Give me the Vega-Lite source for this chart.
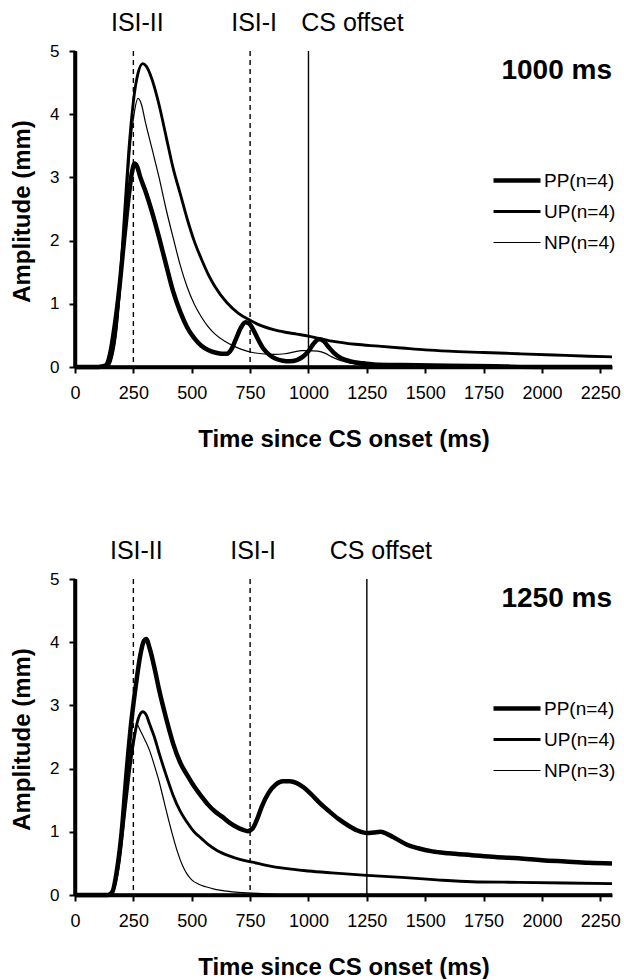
{
  "$schema": "https://vega.github.io/schema/vega-lite/v6.json",
  "background": "white",
  "padding": {"left": 10, "top": 11, "right": 0, "bottom": 0},
  "bounds": "flush",
  "spacing": 212,
  "config": {
    "view": {"stroke": null},
    "font": "Liberation Sans",
    "axis": {"grid": false, "domainColor": "black", "domainWidth": 3.5, "tickColor": "black", "tickWidth": 2, "tickSize": 6, "labelColor": "black", "titleColor": "black", "labelFont": "Liberation Sans", "titleFont": "Liberation Sans", "titleFontWeight": "bold", "titleFontSize": 24},
    "legend": {"orient": "none", "legendX": 416, "legendY": 114, "symbolType": "stroke", "symbolSize": 2209, "symbolStrokeColor": "black", "labelFontSize": 19, "labelOffset": 1, "rowPadding": 0, "clipHeight": 31, "labelColor": "black", "labelFont": "Liberation Sans"}
  },
  "resolve": {"scale": {"strokeWidth": "independent"}, "legend": {"strokeWidth": "independent"}},
  "datasets": {
    "marksTop": [{"t": 250, "marker": "ISI-II"}, {"t": 750, "marker": "ISI-I"}, {"t": 1000, "marker": "CS offset"}],
    "marksBottom": [{"t": 250, "marker": "ISI-II"}, {"t": 750, "marker": "ISI-I"}, {"t": 1250, "marker": "CS offset"}],
    "top": [
      {"group": "PP(n=4)", "t": 0, "amp": 0}, {"group": "PP(n=4)", "t": 100, "amp": 0}, {"group": "PP(n=4)", "t": 130, "amp": 0.02}, {"group": "PP(n=4)", "t": 150, "amp": 0.2}, {"group": "PP(n=4)", "t": 170, "amp": 0.65}, {"group": "PP(n=4)", "t": 190, "amp": 1.25}, {"group": "PP(n=4)", "t": 210, "amp": 2.0}, {"group": "PP(n=4)", "t": 230, "amp": 2.7}, {"group": "PP(n=4)", "t": 245, "amp": 3.1}, {"group": "PP(n=4)", "t": 255, "amp": 3.22}, {"group": "PP(n=4)", "t": 265, "amp": 3.18}, {"group": "PP(n=4)", "t": 280, "amp": 3.0}, {"group": "PP(n=4)", "t": 300, "amp": 2.8}, {"group": "PP(n=4)", "t": 330, "amp": 2.45}, {"group": "PP(n=4)", "t": 360, "amp": 2.05}, {"group": "PP(n=4)", "t": 390, "amp": 1.62}, {"group": "PP(n=4)", "t": 420, "amp": 1.2}, {"group": "PP(n=4)", "t": 450, "amp": 0.88}, {"group": "PP(n=4)", "t": 480, "amp": 0.63}, {"group": "PP(n=4)", "t": 510, "amp": 0.46}, {"group": "PP(n=4)", "t": 540, "amp": 0.34}, {"group": "PP(n=4)", "t": 570, "amp": 0.27}, {"group": "PP(n=4)", "t": 600, "amp": 0.23}, {"group": "PP(n=4)", "t": 630, "amp": 0.21}, {"group": "PP(n=4)", "t": 650, "amp": 0.21}, {"group": "PP(n=4)", "t": 670, "amp": 0.28}, {"group": "PP(n=4)", "t": 690, "amp": 0.45}, {"group": "PP(n=4)", "t": 710, "amp": 0.62}, {"group": "PP(n=4)", "t": 730, "amp": 0.71}, {"group": "PP(n=4)", "t": 745, "amp": 0.69}, {"group": "PP(n=4)", "t": 765, "amp": 0.58}, {"group": "PP(n=4)", "t": 785, "amp": 0.43}, {"group": "PP(n=4)", "t": 805, "amp": 0.3}, {"group": "PP(n=4)", "t": 830, "amp": 0.2}, {"group": "PP(n=4)", "t": 860, "amp": 0.13}, {"group": "PP(n=4)", "t": 890, "amp": 0.1}, {"group": "PP(n=4)", "t": 920, "amp": 0.09}, {"group": "PP(n=4)", "t": 950, "amp": 0.11}, {"group": "PP(n=4)", "t": 975, "amp": 0.16}, {"group": "PP(n=4)", "t": 1000, "amp": 0.25}, {"group": "PP(n=4)", "t": 1020, "amp": 0.36}, {"group": "PP(n=4)", "t": 1045, "amp": 0.44}, {"group": "PP(n=4)", "t": 1065, "amp": 0.41}, {"group": "PP(n=4)", "t": 1085, "amp": 0.32}, {"group": "PP(n=4)", "t": 1110, "amp": 0.22}, {"group": "PP(n=4)", "t": 1140, "amp": 0.14}, {"group": "PP(n=4)", "t": 1180, "amp": 0.09}, {"group": "PP(n=4)", "t": 1230, "amp": 0.06}, {"group": "PP(n=4)", "t": 1280, "amp": 0.04}, {"group": "PP(n=4)", "t": 1400, "amp": 0.03}, {"group": "PP(n=4)", "t": 1600, "amp": 0.02}, {"group": "PP(n=4)", "t": 1800, "amp": 0.01}, {"group": "PP(n=4)", "t": 2000, "amp": 0}, {"group": "PP(n=4)", "t": 2300, "amp": 0},
      {"group": "UP(n=4)", "t": 0, "amp": 0}, {"group": "UP(n=4)", "t": 130, "amp": 0}, {"group": "UP(n=4)", "t": 150, "amp": 0.1}, {"group": "UP(n=4)", "t": 170, "amp": 0.45}, {"group": "UP(n=4)", "t": 190, "amp": 1.2}, {"group": "UP(n=4)", "t": 210, "amp": 2.3}, {"group": "UP(n=4)", "t": 230, "amp": 3.4}, {"group": "UP(n=4)", "t": 250, "amp": 4.2}, {"group": "UP(n=4)", "t": 270, "amp": 4.65}, {"group": "UP(n=4)", "t": 290, "amp": 4.8}, {"group": "UP(n=4)", "t": 305, "amp": 4.76}, {"group": "UP(n=4)", "t": 330, "amp": 4.55}, {"group": "UP(n=4)", "t": 360, "amp": 4.15}, {"group": "UP(n=4)", "t": 390, "amp": 3.65}, {"group": "UP(n=4)", "t": 420, "amp": 3.15}, {"group": "UP(n=4)", "t": 450, "amp": 2.75}, {"group": "UP(n=4)", "t": 480, "amp": 2.35}, {"group": "UP(n=4)", "t": 510, "amp": 2.0}, {"group": "UP(n=4)", "t": 540, "amp": 1.72}, {"group": "UP(n=4)", "t": 570, "amp": 1.47}, {"group": "UP(n=4)", "t": 600, "amp": 1.27}, {"group": "UP(n=4)", "t": 650, "amp": 1.02}, {"group": "UP(n=4)", "t": 700, "amp": 0.85}, {"group": "UP(n=4)", "t": 750, "amp": 0.74}, {"group": "UP(n=4)", "t": 800, "amp": 0.65}, {"group": "UP(n=4)", "t": 850, "amp": 0.59}, {"group": "UP(n=4)", "t": 900, "amp": 0.55}, {"group": "UP(n=4)", "t": 950, "amp": 0.52}, {"group": "UP(n=4)", "t": 1000, "amp": 0.49}, {"group": "UP(n=4)", "t": 1100, "amp": 0.41}, {"group": "UP(n=4)", "t": 1200, "amp": 0.36}, {"group": "UP(n=4)", "t": 1300, "amp": 0.33}, {"group": "UP(n=4)", "t": 1400, "amp": 0.3}, {"group": "UP(n=4)", "t": 1500, "amp": 0.27}, {"group": "UP(n=4)", "t": 1600, "amp": 0.25}, {"group": "UP(n=4)", "t": 1750, "amp": 0.23}, {"group": "UP(n=4)", "t": 1900, "amp": 0.21}, {"group": "UP(n=4)", "t": 2050, "amp": 0.19}, {"group": "UP(n=4)", "t": 2200, "amp": 0.17}, {"group": "UP(n=4)", "t": 2300, "amp": 0.16},
      {"group": "NP(n=4)", "t": 0, "amp": 0}, {"group": "NP(n=4)", "t": 140, "amp": 0}, {"group": "NP(n=4)", "t": 160, "amp": 0.15}, {"group": "NP(n=4)", "t": 180, "amp": 0.6}, {"group": "NP(n=4)", "t": 200, "amp": 1.5}, {"group": "NP(n=4)", "t": 220, "amp": 2.6}, {"group": "NP(n=4)", "t": 240, "amp": 3.6}, {"group": "NP(n=4)", "t": 255, "amp": 4.05}, {"group": "NP(n=4)", "t": 270, "amp": 4.25}, {"group": "NP(n=4)", "t": 285, "amp": 4.15}, {"group": "NP(n=4)", "t": 300, "amp": 3.9}, {"group": "NP(n=4)", "t": 330, "amp": 3.45}, {"group": "NP(n=4)", "t": 360, "amp": 3.0}, {"group": "NP(n=4)", "t": 390, "amp": 2.5}, {"group": "NP(n=4)", "t": 420, "amp": 2.05}, {"group": "NP(n=4)", "t": 450, "amp": 1.62}, {"group": "NP(n=4)", "t": 480, "amp": 1.27}, {"group": "NP(n=4)", "t": 510, "amp": 1.0}, {"group": "NP(n=4)", "t": 540, "amp": 0.8}, {"group": "NP(n=4)", "t": 570, "amp": 0.64}, {"group": "NP(n=4)", "t": 600, "amp": 0.52}, {"group": "NP(n=4)", "t": 640, "amp": 0.41}, {"group": "NP(n=4)", "t": 680, "amp": 0.33}, {"group": "NP(n=4)", "t": 720, "amp": 0.27}, {"group": "NP(n=4)", "t": 760, "amp": 0.23}, {"group": "NP(n=4)", "t": 800, "amp": 0.21}, {"group": "NP(n=4)", "t": 850, "amp": 0.2}, {"group": "NP(n=4)", "t": 900, "amp": 0.21}, {"group": "NP(n=4)", "t": 940, "amp": 0.24}, {"group": "NP(n=4)", "t": 970, "amp": 0.26}, {"group": "NP(n=4)", "t": 1000, "amp": 0.26}, {"group": "NP(n=4)", "t": 1040, "amp": 0.25}, {"group": "NP(n=4)", "t": 1070, "amp": 0.22}, {"group": "NP(n=4)", "t": 1100, "amp": 0.16}, {"group": "NP(n=4)", "t": 1140, "amp": 0.1}, {"group": "NP(n=4)", "t": 1180, "amp": 0.06}, {"group": "NP(n=4)", "t": 1230, "amp": 0.03}, {"group": "NP(n=4)", "t": 1300, "amp": 0.01}, {"group": "NP(n=4)", "t": 1400, "amp": 0}, {"group": "NP(n=4)", "t": 2300, "amp": 0}
    ],
    "bottom": [
      {"group": "PP(n=4)", "t": 0, "amp": 0}, {"group": "PP(n=4)", "t": 140, "amp": 0}, {"group": "PP(n=4)", "t": 160, "amp": 0.05}, {"group": "PP(n=4)", "t": 180, "amp": 0.4}, {"group": "PP(n=4)", "t": 200, "amp": 1.0}, {"group": "PP(n=4)", "t": 220, "amp": 1.9}, {"group": "PP(n=4)", "t": 240, "amp": 2.7}, {"group": "PP(n=4)", "t": 260, "amp": 3.3}, {"group": "PP(n=4)", "t": 280, "amp": 3.8}, {"group": "PP(n=4)", "t": 295, "amp": 4.02}, {"group": "PP(n=4)", "t": 305, "amp": 4.05}, {"group": "PP(n=4)", "t": 320, "amp": 3.9}, {"group": "PP(n=4)", "t": 340, "amp": 3.6}, {"group": "PP(n=4)", "t": 360, "amp": 3.25}, {"group": "PP(n=4)", "t": 390, "amp": 2.8}, {"group": "PP(n=4)", "t": 420, "amp": 2.4}, {"group": "PP(n=4)", "t": 450, "amp": 2.1}, {"group": "PP(n=4)", "t": 480, "amp": 1.9}, {"group": "PP(n=4)", "t": 510, "amp": 1.72}, {"group": "PP(n=4)", "t": 540, "amp": 1.57}, {"group": "PP(n=4)", "t": 570, "amp": 1.43}, {"group": "PP(n=4)", "t": 600, "amp": 1.32}, {"group": "PP(n=4)", "t": 630, "amp": 1.24}, {"group": "PP(n=4)", "t": 660, "amp": 1.15}, {"group": "PP(n=4)", "t": 690, "amp": 1.08}, {"group": "PP(n=4)", "t": 720, "amp": 1.03}, {"group": "PP(n=4)", "t": 740, "amp": 1.01}, {"group": "PP(n=4)", "t": 760, "amp": 1.05}, {"group": "PP(n=4)", "t": 780, "amp": 1.2}, {"group": "PP(n=4)", "t": 800, "amp": 1.4}, {"group": "PP(n=4)", "t": 830, "amp": 1.62}, {"group": "PP(n=4)", "t": 860, "amp": 1.75}, {"group": "PP(n=4)", "t": 890, "amp": 1.8}, {"group": "PP(n=4)", "t": 920, "amp": 1.8}, {"group": "PP(n=4)", "t": 950, "amp": 1.77}, {"group": "PP(n=4)", "t": 980, "amp": 1.7}, {"group": "PP(n=4)", "t": 1010, "amp": 1.6}, {"group": "PP(n=4)", "t": 1050, "amp": 1.45}, {"group": "PP(n=4)", "t": 1090, "amp": 1.32}, {"group": "PP(n=4)", "t": 1130, "amp": 1.2}, {"group": "PP(n=4)", "t": 1170, "amp": 1.1}, {"group": "PP(n=4)", "t": 1210, "amp": 1.02}, {"group": "PP(n=4)", "t": 1250, "amp": 0.98}, {"group": "PP(n=4)", "t": 1280, "amp": 0.99}, {"group": "PP(n=4)", "t": 1310, "amp": 1.0}, {"group": "PP(n=4)", "t": 1340, "amp": 0.96}, {"group": "PP(n=4)", "t": 1380, "amp": 0.88}, {"group": "PP(n=4)", "t": 1420, "amp": 0.8}, {"group": "PP(n=4)", "t": 1470, "amp": 0.74}, {"group": "PP(n=4)", "t": 1530, "amp": 0.69}, {"group": "PP(n=4)", "t": 1600, "amp": 0.66}, {"group": "PP(n=4)", "t": 1700, "amp": 0.63}, {"group": "PP(n=4)", "t": 1800, "amp": 0.6}, {"group": "PP(n=4)", "t": 1900, "amp": 0.58}, {"group": "PP(n=4)", "t": 2000, "amp": 0.55}, {"group": "PP(n=4)", "t": 2100, "amp": 0.53}, {"group": "PP(n=4)", "t": 2200, "amp": 0.51}, {"group": "PP(n=4)", "t": 2300, "amp": 0.5},
      {"group": "UP(n=4)", "t": 0, "amp": 0}, {"group": "UP(n=4)", "t": 150, "amp": 0}, {"group": "UP(n=4)", "t": 170, "amp": 0.15}, {"group": "UP(n=4)", "t": 190, "amp": 0.55}, {"group": "UP(n=4)", "t": 210, "amp": 1.2}, {"group": "UP(n=4)", "t": 230, "amp": 1.85}, {"group": "UP(n=4)", "t": 250, "amp": 2.4}, {"group": "UP(n=4)", "t": 270, "amp": 2.78}, {"group": "UP(n=4)", "t": 290, "amp": 2.9}, {"group": "UP(n=4)", "t": 305, "amp": 2.85}, {"group": "UP(n=4)", "t": 320, "amp": 2.7}, {"group": "UP(n=4)", "t": 340, "amp": 2.5}, {"group": "UP(n=4)", "t": 360, "amp": 2.25}, {"group": "UP(n=4)", "t": 390, "amp": 1.9}, {"group": "UP(n=4)", "t": 420, "amp": 1.58}, {"group": "UP(n=4)", "t": 450, "amp": 1.33}, {"group": "UP(n=4)", "t": 480, "amp": 1.15}, {"group": "UP(n=4)", "t": 510, "amp": 1.0}, {"group": "UP(n=4)", "t": 540, "amp": 0.9}, {"group": "UP(n=4)", "t": 570, "amp": 0.8}, {"group": "UP(n=4)", "t": 610, "amp": 0.7}, {"group": "UP(n=4)", "t": 660, "amp": 0.62}, {"group": "UP(n=4)", "t": 710, "amp": 0.56}, {"group": "UP(n=4)", "t": 760, "amp": 0.52}, {"group": "UP(n=4)", "t": 820, "amp": 0.47}, {"group": "UP(n=4)", "t": 900, "amp": 0.42}, {"group": "UP(n=4)", "t": 1000, "amp": 0.38}, {"group": "UP(n=4)", "t": 1100, "amp": 0.35}, {"group": "UP(n=4)", "t": 1250, "amp": 0.31}, {"group": "UP(n=4)", "t": 1400, "amp": 0.28}, {"group": "UP(n=4)", "t": 1550, "amp": 0.24}, {"group": "UP(n=4)", "t": 1700, "amp": 0.21}, {"group": "UP(n=4)", "t": 1900, "amp": 0.2}, {"group": "UP(n=4)", "t": 2100, "amp": 0.19}, {"group": "UP(n=4)", "t": 2300, "amp": 0.18},
      {"group": "NP(n=3)", "t": 0, "amp": 0}, {"group": "NP(n=3)", "t": 150, "amp": 0}, {"group": "NP(n=3)", "t": 170, "amp": 0.2}, {"group": "NP(n=3)", "t": 190, "amp": 0.7}, {"group": "NP(n=3)", "t": 210, "amp": 1.4}, {"group": "NP(n=3)", "t": 230, "amp": 2.1}, {"group": "NP(n=3)", "t": 250, "amp": 2.5}, {"group": "NP(n=3)", "t": 265, "amp": 2.7}, {"group": "NP(n=3)", "t": 280, "amp": 2.6}, {"group": "NP(n=3)", "t": 300, "amp": 2.45}, {"group": "NP(n=3)", "t": 320, "amp": 2.28}, {"group": "NP(n=3)", "t": 340, "amp": 2.05}, {"group": "NP(n=3)", "t": 360, "amp": 1.8}, {"group": "NP(n=3)", "t": 380, "amp": 1.5}, {"group": "NP(n=3)", "t": 400, "amp": 1.2}, {"group": "NP(n=3)", "t": 420, "amp": 0.92}, {"group": "NP(n=3)", "t": 440, "amp": 0.67}, {"group": "NP(n=3)", "t": 460, "amp": 0.47}, {"group": "NP(n=3)", "t": 480, "amp": 0.33}, {"group": "NP(n=3)", "t": 500, "amp": 0.24}, {"group": "NP(n=3)", "t": 530, "amp": 0.17}, {"group": "NP(n=3)", "t": 560, "amp": 0.13}, {"group": "NP(n=3)", "t": 600, "amp": 0.09}, {"group": "NP(n=3)", "t": 650, "amp": 0.06}, {"group": "NP(n=3)", "t": 700, "amp": 0.04}, {"group": "NP(n=3)", "t": 760, "amp": 0.03}, {"group": "NP(n=3)", "t": 850, "amp": 0.01}, {"group": "NP(n=3)", "t": 950, "amp": 0}, {"group": "NP(n=3)", "t": 2300, "amp": 0}
    ]
  },
  "vconcat": [
    {
      "width": 537, "height": 316,
      "layer": [
        {"data": {"name": "top"}, "mark": {"type": "line", "color": "black", "interpolate": "monotone"},
         "encoding": {
           "x": {"field": "t", "type": "quantitative", "scale": {"domain": [0, 2300], "nice": false},
                 "axis": {"values": [0, 250, 500, 750, 1000, 1250, 1500, 1750, 2000, 2250], "format": "d", "title": "Time since CS onset (ms)", "labelFontSize": 18, "labelBaseline": "middle", "labelPadding": 20, "titleY": 72, "titleBaseline": "middle", "labelFlush": false, "labelOverlap": false, "domainColor": "black", "domainWidth": 3.5, "tickColor": "black", "tickWidth": 2, "tickSize": 6}},
           "y": {"field": "amp", "type": "quantitative", "scale": {"domain": [0, 5], "nice": false},
                 "axis": {"values": [0, 1, 2, 3, 4, 5], "format": "d", "title": "Amplitude (mm)", "labelFontSize": 17, "labelPadding": 10, "labelBaseline": "middle", "titleX": -53, "titleY": 160, "titleAngle": -90, "titleBaseline": "middle", "titleAlign": "center", "domainColor": "black", "domainWidth": 3.5, "tickColor": "black", "tickWidth": 2, "tickSize": 6}},
           "strokeWidth": {"field": "group", "type": "ordinal", "scale": {"domain": ["PP(n=4)", "UP(n=4)", "NP(n=4)"], "range": [4.5, 1.2]}, "legend": {"title": null}}
         }},
        {"data": {"name": "marksTop"}, "mark": {"type": "rule", "color": "black", "strokeWidth": 1.4},
         "encoding": {"x": {"field": "t", "type": "quantitative", "scale": {"domain": [0, 2300], "nice": false}},
                      "strokeDash": {"field": "marker", "type": "nominal", "scale": {"domain": ["ISI-II", "ISI-I", "CS offset"], "range": [[5, 4], [5, 4], [1, 0]]}, "legend": null}}},
        {"data": {"values": [{}]}, "mark": {"type": "rule", "color": "black", "strokeWidth": 3.5},
         "encoding": {"x": {"datum": 0, "type": "quantitative", "scale": {"domain": [0, 2300], "nice": false}}}},
        {"data": {"values": [{}]}, "mark": {"type": "rule", "color": "black", "strokeWidth": 3.5},
         "encoding": {"y": {"datum": 0, "type": "quantitative", "scale": {"domain": [0, 5], "nice": false}}}},
        {"data": {"name": "marksTop"}, "transform": [{"filter": "datum.marker != 'CS offset'"}],
         "mark": {"type": "text", "fontSize": 25, "dx": 4, "baseline": "middle", "clip": false, "color": "black"},
         "encoding": {"x": {"field": "t", "type": "quantitative", "scale": {"domain": [0, 2300], "nice": false}},
                      "y": {"datum": 5.44, "type": "quantitative", "scale": {"domain": [0, 5], "nice": false}},
                      "text": {"field": "marker"}}},
        {"data": {"name": "marksTop"}, "transform": [{"filter": "datum.marker == 'CS offset'"}],
         "mark": {"type": "text", "fontSize": 25, "dx": 44, "baseline": "middle", "clip": false, "color": "black"},
         "encoding": {"x": {"field": "t", "type": "quantitative", "scale": {"domain": [0, 2300], "nice": false}},
                      "y": {"datum": 5.44, "type": "quantitative", "scale": {"domain": [0, 5], "nice": false}},
                      "text": {"field": "marker"}}},
        {"data": {"values": [{}]}, "mark": {"type": "text", "text": "1000 ms", "fontSize": 28, "fontWeight": "bold", "align": "right", "baseline": "middle", "color": "black"},
         "encoding": {"x": {"datum": 2300, "type": "quantitative", "scale": {"domain": [0, 2300], "nice": false}},
                      "y": {"datum": 4.68, "type": "quantitative", "scale": {"domain": [0, 5], "nice": false}}}}
      ]
    },
    {
      "width": 537, "height": 316,
      "layer": [
        {"data": {"name": "bottom"}, "mark": {"type": "line", "color": "black", "interpolate": "monotone"},
         "encoding": {
           "x": {"field": "t", "type": "quantitative", "scale": {"domain": [0, 2300], "nice": false},
                 "axis": {"values": [0, 250, 500, 750, 1000, 1250, 1500, 1750, 2000, 2250], "format": "d", "title": "Time since CS onset (ms)", "labelFontSize": 18, "labelBaseline": "middle", "labelPadding": 20, "titleY": 72, "titleBaseline": "middle", "labelFlush": false, "labelOverlap": false, "domainColor": "black", "domainWidth": 3.5, "tickColor": "black", "tickWidth": 2, "tickSize": 6}},
           "y": {"field": "amp", "type": "quantitative", "scale": {"domain": [0, 5], "nice": false},
                 "axis": {"values": [0, 1, 2, 3, 4, 5], "format": "d", "title": "Amplitude (mm)", "labelFontSize": 17, "labelPadding": 10, "labelBaseline": "middle", "titleX": -53, "titleY": 160, "titleAngle": -90, "titleBaseline": "middle", "titleAlign": "center", "domainColor": "black", "domainWidth": 3.5, "tickColor": "black", "tickWidth": 2, "tickSize": 6}},
           "strokeWidth": {"field": "group", "type": "ordinal", "scale": {"domain": ["PP(n=4)", "UP(n=4)", "NP(n=3)"], "range": [4.5, 1.2]}, "legend": {"title": null}}
         }},
        {"data": {"name": "marksBottom"}, "mark": {"type": "rule", "color": "black", "strokeWidth": 1.4},
         "encoding": {"x": {"field": "t", "type": "quantitative", "scale": {"domain": [0, 2300], "nice": false}},
                      "strokeDash": {"field": "marker", "type": "nominal", "scale": {"domain": ["ISI-II", "ISI-I", "CS offset"], "range": [[5, 4], [5, 4], [1, 0]]}, "legend": null}}},
        {"data": {"values": [{}]}, "mark": {"type": "rule", "color": "black", "strokeWidth": 3.5},
         "encoding": {"x": {"datum": 0, "type": "quantitative", "scale": {"domain": [0, 2300], "nice": false}}}},
        {"data": {"values": [{}]}, "mark": {"type": "rule", "color": "black", "strokeWidth": 3.5},
         "encoding": {"y": {"datum": 0, "type": "quantitative", "scale": {"domain": [0, 5], "nice": false}}}},
        {"data": {"name": "marksBottom"}, "transform": [{"filter": "datum.marker != 'CS offset'"}],
         "mark": {"type": "text", "fontSize": 25, "dx": 3, "baseline": "middle", "clip": false, "color": "black"},
         "encoding": {"x": {"field": "t", "type": "quantitative", "scale": {"domain": [0, 2300], "nice": false}},
                      "y": {"datum": 5.44, "type": "quantitative", "scale": {"domain": [0, 5], "nice": false}},
                      "text": {"field": "marker"}}},
        {"data": {"name": "marksBottom"}, "transform": [{"filter": "datum.marker == 'CS offset'"}],
         "mark": {"type": "text", "fontSize": 25, "dx": 14, "baseline": "middle", "clip": false, "color": "black"},
         "encoding": {"x": {"field": "t", "type": "quantitative", "scale": {"domain": [0, 2300], "nice": false}},
                      "y": {"datum": 5.44, "type": "quantitative", "scale": {"domain": [0, 5], "nice": false}},
                      "text": {"field": "marker"}}},
        {"data": {"values": [{}]}, "mark": {"type": "text", "text": "1250 ms", "fontSize": 28, "fontWeight": "bold", "align": "right", "baseline": "middle", "color": "black"},
         "encoding": {"x": {"datum": 2300, "type": "quantitative", "scale": {"domain": [0, 2300], "nice": false}},
                      "y": {"datum": 4.68, "type": "quantitative", "scale": {"domain": [0, 5], "nice": false}}}}
      ]
    }
  ]
}
